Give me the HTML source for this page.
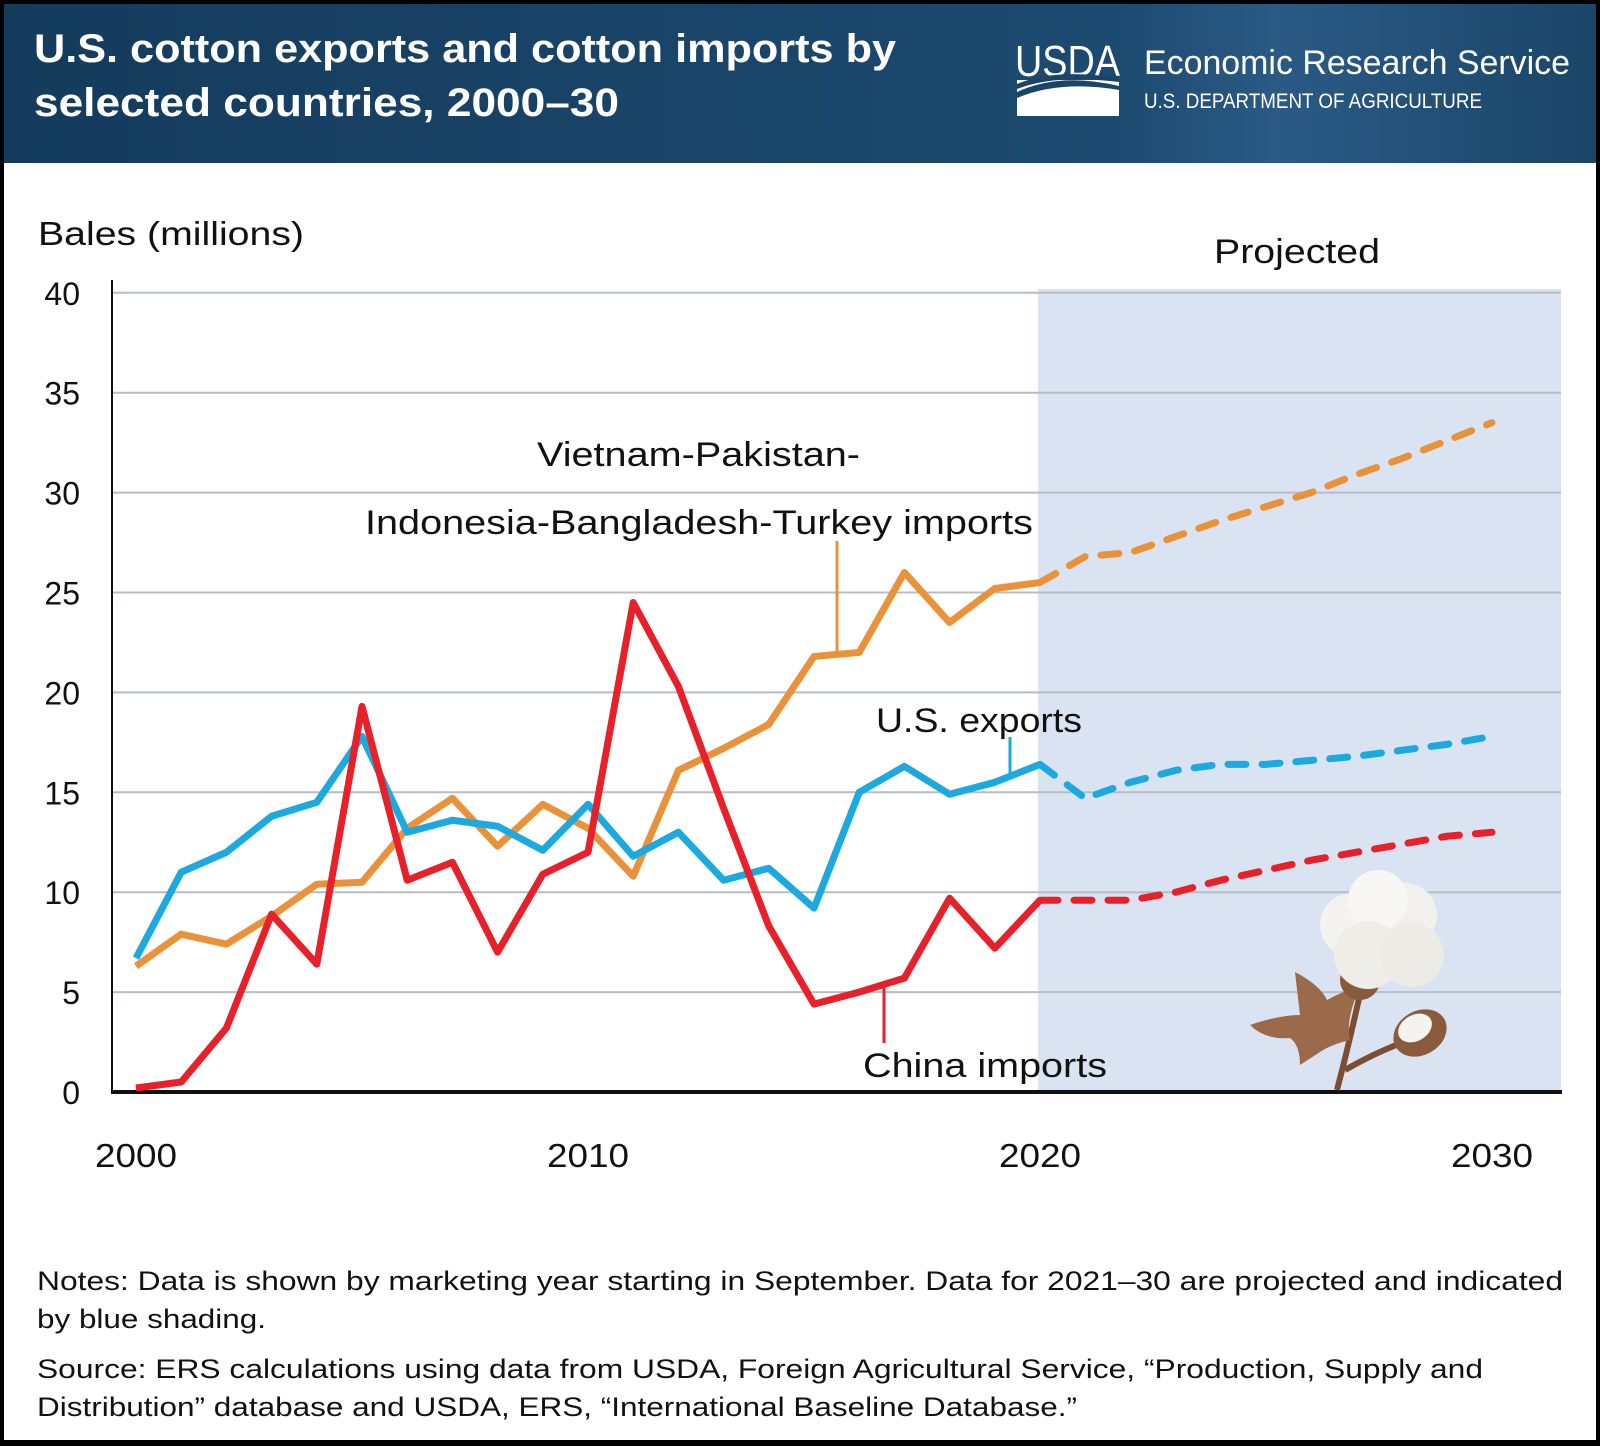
<!DOCTYPE html>
<html><head><meta charset="utf-8"><style>
body{margin:0;background:#fff;}
svg text{font-family:"Liberation Sans",sans-serif;}
</style></head><body>
<svg width="1600" height="1446" viewBox="0 0 1600 1446">
<defs>
<linearGradient id="hg" x1="0" y1="0" x2="1" y2="0">
<stop offset="0" stop-color="#143b5c"/><stop offset="0.7" stop-color="#1d4a70"/><stop offset="0.8" stop-color="#2a5a85"/><stop offset="1" stop-color="#1b4568"/></linearGradient>
</defs>
<rect x="0" y="0" width="1600" height="1446" fill="#000"/>
<rect x="4" y="4" width="1592" height="1436" fill="#fff"/>
<rect x="4" y="4" width="1592" height="159" fill="url(#hg)"/>
<text x="34" y="62" fill="#fff" font-size="40" font-weight="bold" textLength="862" lengthAdjust="spacingAndGlyphs">U.S. cotton exports and cotton imports by</text>
<text x="34" y="116" fill="#fff" font-size="40" font-weight="bold" textLength="585" lengthAdjust="spacingAndGlyphs">selected countries, 2000–30</text>
<text x="1015" y="76" fill="#fff" font-size="44" textLength="105" lengthAdjust="spacingAndGlyphs">USDA</text>
<g><rect x="1017" y="80" width="102" height="36" fill="#fff"/><path d="M1017 92 Q1060 72 1119 86 L1119 90 Q1060 80 1017 98Z" fill="#1b4568"/><path d="M1017 84 Q1055 68 1119 78 L1119 82 Q1055 74 1017 89Z" fill="#1b4568"/></g>
<text x="1144" y="74" fill="#fff" font-size="34" textLength="426" lengthAdjust="spacingAndGlyphs">Economic Research Service</text>
<text x="1144" y="108" fill="#fff" font-size="21" textLength="338" lengthAdjust="spacingAndGlyphs">U.S. DEPARTMENT OF AGRICULTURE</text>

<text x="38" y="245" font-size="33" fill="#111" textLength="266" lengthAdjust="spacingAndGlyphs">Bales (millions)</text>
<rect x="1038" y="289" width="523" height="803" fill="#d9e3f2"/>
<text x="1214" y="263" font-size="34" fill="#111" textLength="166" lengthAdjust="spacingAndGlyphs">Projected</text>
<g id="grid"></g>
<g id="plot"></g>
<g>
<path d="M1337 1090 Q1350 1040 1362 985 M1345 1070 Q1380 1050 1410 1040" stroke="#7a4e33" stroke-width="6" fill="none"/>
<path d="M1250 1025 Q1280 1015 1300 1015 L1295 972 Q1320 985 1327 1000 Q1345 990 1360 987 Q1345 1020 1350 1040 Q1330 1045 1320 1052 L1300 1065 Q1300 1045 1290 1038 Q1265 1040 1250 1025Z" fill="#9a6a4a"/>
<ellipse cx="1420" cy="1033" rx="28" ry="22" fill="#8a5a3c" transform="rotate(-30 1420 1033)"/>
<ellipse cx="1415" cy="1028" rx="18" ry="13" fill="#f4f3ef" transform="rotate(-30 1415 1028)"/>
<circle cx="1360" cy="980" r="20" fill="#8a5a3c"/>
<circle cx="1352" cy="925" r="32" fill="#f4f3ef"/><circle cx="1405" cy="915" r="32" fill="#f1f0ec"/><circle cx="1378" cy="900" r="30" fill="#f8f7f4"/><circle cx="1368" cy="955" r="34" fill="#eeede8"/><circle cx="1412" cy="955" r="32" fill="#ecebe6"/>
</g>
<g id="labels">
<text x="537" y="466" font-size="34" fill="#111" textLength="323" lengthAdjust="spacingAndGlyphs">Vietnam-Pakistan-</text>
<text x="365" y="534" font-size="34" fill="#111" textLength="668" lengthAdjust="spacingAndGlyphs">Indonesia-Bangladesh-Turkey imports</text>
<line x1="837" y1="541" x2="837" y2="653" stroke="#e9923a" stroke-width="3"/>
<text x="876" y="732" font-size="34" fill="#111" textLength="206" lengthAdjust="spacingAndGlyphs">U.S. exports</text>
<line x1="1010" y1="737" x2="1010" y2="776" stroke="#1ba9e0" stroke-width="3"/>
<text x="863" y="1077" font-size="34" fill="#111" textLength="244" lengthAdjust="spacingAndGlyphs">China imports</text>
<line x1="884" y1="985" x2="884" y2="1043" stroke="#e8202a" stroke-width="3"/>
</g>
<text x="37" y="1290" font-size="27" fill="#111" textLength="1526" lengthAdjust="spacingAndGlyphs">Notes: Data is shown by marketing year starting in September. Data for 2021–30 are projected and indicated</text>
<text x="37" y="1328" font-size="27" fill="#111" textLength="229" lengthAdjust="spacingAndGlyphs">by blue shading.</text>
<text x="37" y="1378" font-size="27" fill="#111" textLength="1446" lengthAdjust="spacingAndGlyphs">Source: ERS calculations using data from USDA, Foreign Agricultural Service, “Production, Supply and</text>
<text x="37" y="1416" font-size="27" fill="#111" textLength="1040" lengthAdjust="spacingAndGlyphs">Distribution” database and USDA, ERS, “International Baseline Database.”</text>
</svg>
<script>
const years=[2000,2001,2002,2003,2004,2005,2006,2007,2008,2009,2010,2011,2012,2013,2014,2015,2016,2017,2018,2019,2020];
const projYears=[2020,2021,2022,2023,2024,2025,2026,2027,2028,2029,2030];
const vpibt=[6.3,7.9,7.4,8.8,10.4,10.5,13.2,14.7,12.3,14.4,13.2,10.8,16.1,17.2,18.4,21.8,22.0,26.0,23.5,25.2,25.5];
const vpibtProj=[25.5,26.8,27.0,27.8,28.6,29.3,30.0,30.9,31.7,32.6,33.5];
const usExports=[6.7,11.0,12.0,13.8,14.5,17.8,13.0,13.6,13.3,12.1,14.4,11.8,13.0,10.6,11.2,9.2,15.0,16.3,14.9,15.5,16.4];
const usExportsProj=[16.4,14.7,15.5,16.1,16.4,16.4,16.6,16.8,17.1,17.4,17.8];
const china=[0.2,0.5,3.2,8.9,6.4,19.3,10.6,11.5,7.0,10.9,12.0,24.5,20.3,14.2,8.3,4.4,5.0,5.7,9.7,7.2,9.6];
const chinaProj=[9.6,9.6,9.6,10.0,10.6,11.1,11.6,12.0,12.4,12.8,13.0];
const yTicks=[0,5,10,15,20,25,30,35,40];
const xTicks=[2000,2010,2020,2030];
const NS='http://www.w3.org/2000/svg';
const X=y=>136+(y-2000)*45.2;
const Y=v=>1092-v*19.98;
const grid=document.getElementById('grid'),plot=document.getElementById('plot');
function mk(tag,at,par){const e=document.createElementNS(NS,tag);for(const k in at)e.setAttribute(k,at[k]);par.appendChild(e);return e;}
yTicks.forEach(t=>{
 if(t>0){const l=mk('line',{x1:112,x2:1561,y1:Y(t),y2:Y(t),stroke:'#b8bcc4','stroke-width':2},grid);
 
 }
 const tx=mk('text',{x:80,y:Y(t)+12,'font-size':32,fill:'#111','text-anchor':'end'},grid);tx.textContent=t;
 
 
});
xTicks.forEach(t=>{const tx=mk('text',{x:X(t),y:1167,'font-size':33,fill:'#111','text-anchor':'middle',textLength:82,lengthAdjust:'spacingAndGlyphs'},grid);tx.textContent=t;
 
 });
const ya=mk('line',{x1:112,x2:112,y1:280,y2:1092,stroke:'#111','stroke-width':2},grid);


const xa=mk('line',{x1:111,x2:1562,y1:1092,y2:1092,stroke:'#111','stroke-width':4},grid);


function line(xs,vs,color,dash,name){
 const p=mk('polyline',{points:xs.map((y,i)=>X(y)+','+Y(vs[i])).join(' '),fill:'none',stroke:color,'stroke-width':7,'stroke-linejoin':'round','stroke-linecap':dash?'round':'butt'},plot);
 if(dash)p.setAttribute('stroke-dasharray','18 16');
 
 
}
line(projYears,vpibtProj,'#e9923a',true,'vpibt-projected-line');
line(projYears,usExportsProj,'#1ba9e0',true,'us-exports-projected-line');
line(projYears,chinaProj,'#e8202a',true,'china-projected-line');
line(years,vpibt,'#e9923a',false,'vpibt-line');
line(years,usExports,'#1ba9e0',false,'us-exports-line');
line(years,china,'#e8202a',false,'china-line');
</script>
</body></html>
